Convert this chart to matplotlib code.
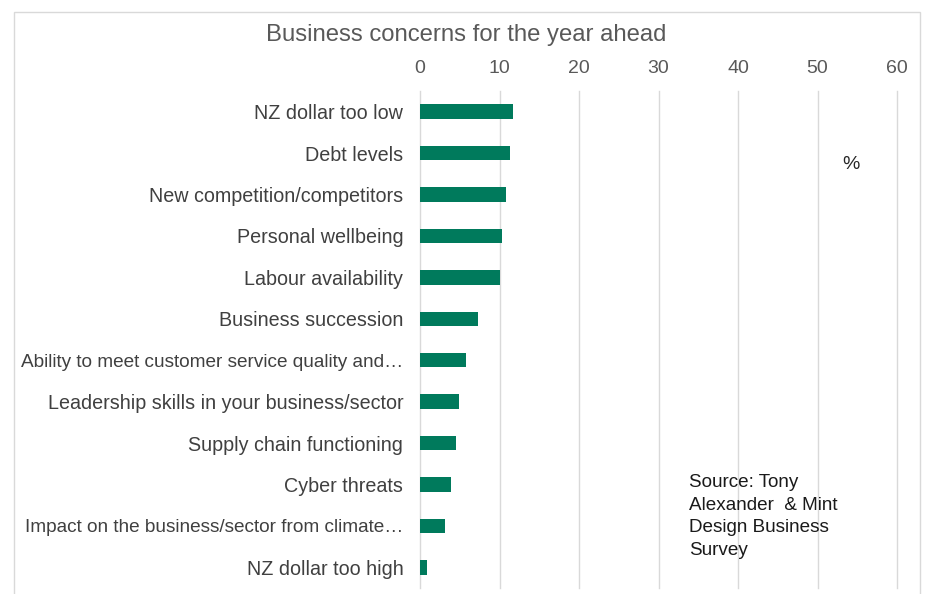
import matplotlib.pyplot as plt
from matplotlib.patches import Rectangle

concerns = [
    "NZ dollar too low",
    "Debt levels",
    "New competition/competitors",
    "Personal wellbeing",
    "Labour availability",
    "Business succession",
    "Ability to meet customer service quality and\u2026",
    "Leadership skills in your business/sector",
    "Supply chain functioning",
    "Cyber threats",
    "Impact on the business/sector from climate\u2026",
    "NZ dollar too high",
]
share = [11.7, 11.35, 10.8, 10.3, 10.1, 7.25, 5.75, 4.9, 4.5, 3.85, 3.2, 0.9]
xticks = [0, 10, 20, 30, 40, 50, 60]

plt.rcParams["font.family"] = ["Liberation Sans", "DejaVu Sans"]

fig = plt.figure(figsize=(9.27, 5.94), dpi=100)
ax = fig.add_axes([420 / 927, 1 - 588 / 594, 477 / 927, (588 - 91) / 594])

pos = list(range(len(concerns)))
ax.barh(pos, share, height=0.35, color="#007A5C")
ax.set_ylim(len(concerns) - 0.5, -0.5)
ax.set_xlim(0, 60)
ax.set_yticks(pos)
ax.set_yticklabels(concerns, fontsize=14.2, color="#404040")
# the clipped labels are squeezed a little to fit
for lbl in ax.get_yticklabels():
    if lbl.get_text().endswith("\u2026"):
        lbl.set_fontsize(13.7)
ax.set_xticks(xticks)
ax.set_xticklabels([str(t) for t in xticks], fontsize=14, color="#595959")
ax.xaxis.tick_top()
ax.tick_params(axis="both", length=0)
ax.tick_params(axis="y", pad=12)
ax.tick_params(axis="x", pad=10)
ax.grid(axis="x", color="#d9d9d9", linewidth=1, clip_on=False)
ax.set_axisbelow(True)
for s in ax.spines.values():
    s.set_visible(False)

fig.text(466 / 927, 1 - 35 / 594, "Business concerns for the year ahead",
         ha="center", va="center", fontsize=17.2, color="#595959")
fig.text(851 / 927, 1 - 164 / 594, "%", ha="center", va="center",
         fontsize=14, color="#262626")
fig.text(689 / 927, 1 - 474 / 594,
         "Source: Tony\nAlexander  & Mint\nDesign Business\nSurvey",
         ha="left", va="top", fontsize=13.6, color="#1a1a1a", linespacing=1.43)

# light frame around the chart area
fig.patches.append(Rectangle((14 / 927, -0.05), (920 - 14) / 927, 1.05 - 12 / 594,
                             transform=fig.transFigure, fill=False,
                             edgecolor="#d9d9d9", linewidth=1))

fig.savefig("out.png", dpi=100)
